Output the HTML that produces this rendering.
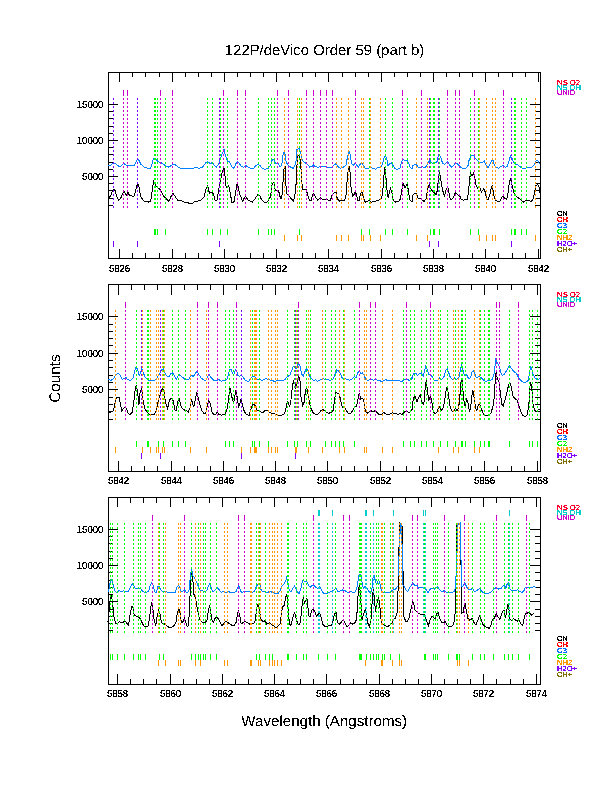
<!DOCTYPE html>
<html lang="en"><head><meta charset="utf-8"><title>122P/deVico Order 59 (part b)</title>
<style>html,body{margin:0;padding:0;background:#fff}body{width:612px;height:792px;overflow:hidden}svg{display:block;text-rendering:geometricPrecision}.tk{font-size:10.2px;stroke:#000;stroke-width:.15px;filter:url(#px)}.big{stroke:#000;stroke-width:.07px;filter:url(#pb)}.lg{font-size:7.3px;stroke-width:.15px;filter:url(#px)}</style>
</head><body>
<svg width="612" height="792" viewBox="0 0 612 792" font-family='"Liberation Sans", sans-serif' shape-rendering="crispEdges" fill="#000">
<defs><filter id="px" x="-5%" y="-20%" width="110%" height="140%" color-interpolation-filters="sRGB"><feComponentTransfer><feFuncA type="discrete" tableValues="0 0 1 1 1"/></feComponentTransfer></filter><filter id="pb" x="-5%" y="-20%" width="110%" height="140%" color-interpolation-filters="sRGB"><feComponentTransfer><feFuncA type="discrete" tableValues="0 1"/></feComponentTransfer></filter></defs>
<rect width="612" height="792" fill="#fff"/>
<text x="224.8" y="54.9" font-size="14.8" textLength="199.4" lengthAdjust="spacingAndGlyphs" class="big">122P/deVico Order 59 (part b)</text>
<text x="241.3" y="725.8" font-size="15" textLength="165.8" lengthAdjust="spacingAndGlyphs" class="big">Wavelength (Angstroms)</text>
<g filter="url(#pb)"><text transform="translate(60.2 378.5) rotate(-90)" text-anchor="middle" font-size="15.3">Counts</text></g>
<g><rect x="108.5" y="72.5" width="432" height="186" fill="none" stroke="#000"/>
<path d="M119.5 73v9M119.5 258v-9M132.5 73v4M132.5 258v-5M145.5 73v4M145.5 258v-5M159.5 73v4M159.5 258v-5M172.5 73v9M172.5 258v-9M185.5 73v4M185.5 258v-5M198.5 73v4M198.5 258v-5M211.5 73v4M211.5 258v-5M224.5 73v9M224.5 258v-9M237.5 73v4M237.5 258v-5M250.5 73v4M250.5 258v-5M263.5 73v4M263.5 258v-5M276.5 73v9M276.5 258v-9M289.5 73v4M289.5 258v-5M302.5 73v4M302.5 258v-5M315.5 73v4M315.5 258v-5M328.5 73v9M328.5 258v-9M342.5 73v4M342.5 258v-5M355.5 73v4M355.5 258v-5M368.5 73v4M368.5 258v-5M381.5 73v9M381.5 258v-9M394.5 73v4M394.5 258v-5M407.5 73v4M407.5 258v-5M420.5 73v4M420.5 258v-5M433.5 73v9M433.5 258v-9M446.5 73v4M446.5 258v-5M459.5 73v4M459.5 258v-5M472.5 73v4M472.5 258v-5M485.5 73v9M485.5 258v-9M498.5 73v4M498.5 258v-5M512.5 73v4M512.5 258v-5M525.5 73v4M525.5 258v-5M538.5 73v9M538.5 258v-9M109 104.5h9M540 104.5h-10M109 111.5h4M540 111.5h-5M109 118.5h4M540 118.5h-5M109 126.5h4M540 126.5h-5M109 133.5h4M540 133.5h-5M109 140.5h9M540 140.5h-10M109 147.5h4M540 147.5h-5M109 154.5h4M540 154.5h-5M109 162.5h4M540 162.5h-5M109 169.5h4M540 169.5h-5M109 176.5h9M540 176.5h-10M109 183.5h4M540 183.5h-5M109 190.5h4M540 190.5h-5M109 198.5h4M540 198.5h-5M109 205.5h4M540 205.5h-5" stroke="#000"/>
<polyline points="108.0,198.4 110.5,195.9 113.0,189.7 114.8,189.7 116.1,194.6 118.6,200.2 121.0,197.7 123.9,191.2 126.6,195.3 127.9,192.2 129.7,195.9 134.1,196.1 135.9,189.7 137.4,184.1 138.7,184.7 140.5,195.9 143.4,200.8 148.4,202.1 150.8,200.8 152.7,187.2 153.7,181.6 155.8,185.9 160.2,189.7 163.3,195.9 168.8,201.5 171.3,195.9 173.2,193.4 175.1,196.5 178.2,200.8 181.9,200.8 184.0,202.1 184.0,202.1 187.7,202.7 190.2,203.6 192.7,203.3 195.2,201.2 200.1,200.8 203.9,197.1 206.1,188.4 207.6,185.9 209.5,193.4 211.9,192.2 213.4,194.0 215.0,200.2 216.9,200.2 218.5,190.9 220.6,179.7 222.5,171.0 224.0,167.6 225.0,176.0 226.2,187.8 228.5,185.7 229.7,189.7 231.8,202.1 233.9,202.1 235.5,193.4 237.0,184.1 238.0,186.2 239.9,194.6 242.6,201.2 244.8,197.1 245.7,196.5 248.0,200.2 252.3,202.1 254.8,199.0 257.9,194.4 260.0,195.9 260.0,197.1 262.5,200.8 265.0,203.1 267.5,201.5 270.6,196.5 272.2,183.5 273.9,182.2 275.2,189.7 276.8,190.9 278.6,190.9 280.5,198.4 281.7,199.0 283.0,182.2 284.2,166.1 285.2,166.1 286.3,193.4 288.6,195.3 291.0,198.4 293.5,201.2 295.4,192.2 296.6,177.3 297.3,156.8 299.5,154.9 300.7,164.8 302.0,183.5 302.8,189.1 306.2,189.7 307.8,195.3 309.7,200.8 310.9,200.8 312.8,194.6 314.0,193.6 315.3,197.1 317.7,200.2 320.2,197.7 322.7,199.4 326.4,199.4 328.3,200.2 330.5,200.2 332.0,195.3 334.5,192.8 336.0,192.2 336.0,192.2 337.2,198.4 339.5,201.2 342.2,200.2 344.4,200.8 346.2,194.6 347.4,176.0 348.4,169.2 349.4,166.1 350.3,174.8 351.2,189.7 352.8,196.5 354.0,194.6 355.2,191.5 356.5,194.6 357.7,200.2 359.3,200.2 360.6,193.4 362.1,192.2 363.3,196.5 365.2,202.1 367.0,201.8 369.3,200.2 371.4,202.1 373.3,201.5 377.0,200.8 380.1,199.4 381.7,198.4 382.9,189.7 383.8,177.3 384.7,167.3 385.7,173.5 386.9,189.7 388.2,198.4 389.4,192.2 390.6,188.4 391.9,192.2 393.4,200.8 395.6,202.1 398.7,201.5 400.6,198.4 401.8,189.7 403.1,183.2 404.9,187.8 407.0,184.5 408.3,189.7 409.5,198.4 410.5,200.8 412.0,201.2 412.0,199.0 413.2,194.6 414.7,193.4 416.7,194.0 418.2,198.4 420.1,198.4 422.6,200.8 424.4,201.2 426.3,198.4 427.5,189.7 429.4,183.5 431.2,189.7 433.7,192.2 436.2,194.6 437.5,189.7 438.7,174.8 439.6,172.9 440.8,179.7 442.4,189.7 444.5,195.9 446.2,189.7 447.6,186.6 448.9,192.2 450.2,199.0 451.7,199.4 453.6,197.1 455.5,192.2 457.3,194.6 459.8,195.9 461.1,199.4 463.5,200.2 467.3,199.4 468.5,192.2 469.4,182.2 470.4,172.9 472.2,176.0 473.5,173.3 474.7,177.3 476.0,184.7 477.8,188.4 479.7,186.6 481.5,192.2 483.8,188.4 485.3,192.2 486.5,198.4 488.0,199.6 489.9,194.6 491.4,187.2 492.4,185.7 493.6,194.6 495.5,200.2 497.9,201.5 500.4,200.8 502.0,197.1 503.3,196.5 504.8,198.4 506.6,199.4 508.2,192.2 509.5,181.0 510.7,179.1 512.2,185.9 514.1,193.4 516.6,196.5 519.7,199.0 523.4,202.1 526.5,200.2 529.0,200.8 531.5,201.5 533.3,198.4 534.6,192.2 535.8,185.9 537.7,184.7 538.9,186.6 540.2,194.6" fill="none" stroke="#000" stroke-width="1"/>
<polyline points="108.0,165.7 110.5,165.7 113.6,162.7 115.5,163.6 119.8,167.1 123.5,163.2 126.6,165.5 129.1,165.5 134.1,165.5 137.4,159.2 139.0,160.5 140.9,164.2 145.3,167.9 150.2,168.3 151.5,166.7 153.3,158.6 155.2,158.9 157.7,161.4 161.4,163.0 165.1,165.5 168.8,167.1 172.6,164.8 175.1,164.5 178.8,167.9 184.0,168.3 184.0,168.3 193.3,168.3 195.2,167.3 198.9,168.3 202.6,167.1 205.7,163.0 207.6,161.4 210.1,163.6 212.3,162.7 214.4,165.5 216.5,167.1 218.8,163.6 221.3,156.1 222.7,152.4 224.0,149.3 225.0,153.7 227.5,161.7 229.0,161.4 231.2,165.5 233.1,168.3 234.9,166.7 236.4,162.4 237.6,161.4 239.3,163.6 241.7,166.7 243.6,167.1 245.7,165.5 248.0,167.1 251.1,168.6 253.5,168.3 256.0,165.5 258.1,164.2 260.0,165.5 260.0,166.1 262.5,168.3 265.0,169.4 268.1,168.3 270.6,165.5 272.4,159.2 273.9,159.2 275.5,163.0 278.0,163.0 279.9,166.7 281.7,165.5 283.3,152.4 284.8,152.4 286.3,162.4 288.6,165.5 291.0,167.6 293.5,168.3 295.8,163.6 297.0,149.3 299.1,148.4 300.7,152.4 302.2,160.5 304.7,162.4 307.2,164.2 309.7,167.1 312.2,166.7 313.4,164.8 315.3,166.7 318.4,167.3 320.8,166.5 324.6,166.5 327.7,167.3 330.8,167.9 333.3,165.5 336.0,163.6 336.0,163.6 337.9,166.7 340.3,168.3 343.5,167.1 345.9,165.5 347.4,157.4 349.0,151.4 350.3,154.9 351.5,163.6 353.4,165.2 355.2,163.0 357.1,165.5 358.6,167.1 360.2,164.2 361.8,163.0 363.3,165.5 365.2,168.3 368.3,168.3 370.8,167.6 373.3,168.3 375.7,169.4 377.6,167.6 380.7,167.1 382.6,164.2 383.8,158.6 385.3,155.2 386.7,158.6 387.9,165.5 389.4,164.2 391.3,162.6 392.9,165.5 395.0,168.6 396.8,169.4 400.0,167.9 401.8,161.7 403.1,159.2 404.9,160.5 407.0,160.1 408.6,163.0 410.1,167.6 412.0,168.3 412.0,166.5 414.5,164.6 416.3,164.6 418.2,167.1 420.1,167.6 421.9,166.5 423.8,167.6 426.3,166.7 428.1,162.4 430.0,160.5 431.9,163.0 435.0,163.0 436.8,162.4 438.3,156.1 439.6,154.9 441.2,158.6 442.4,163.0 444.5,164.2 446.2,163.0 447.6,161.7 449.3,164.8 451.7,167.1 453.6,165.5 455.5,163.0 457.9,164.2 459.8,166.5 462.9,168.6 465.4,168.3 467.9,166.1 469.4,158.6 471.6,155.5 473.7,155.5 475.3,158.6 477.8,161.1 480.3,163.0 482.5,162.4 484.3,161.1 486.1,165.5 488.0,167.6 489.9,164.2 491.7,160.5 493.0,160.5 494.2,164.8 496.1,167.1 498.3,168.3 501.0,166.5 503.3,165.5 505.4,167.1 507.3,166.5 508.7,162.4 510.4,156.1 511.6,157.4 513.5,162.4 515.3,164.2 517.2,164.2 519.7,166.5 522.2,168.3 525.3,168.3 527.1,167.1 532.1,167.1 534.0,164.8 535.6,161.4 537.7,160.1 538.9,163.0 540.2,163.6" fill="none" stroke="#0080FF" stroke-width="1"/>
<path d="M154.5 98V210M155.5 98V210M157.5 98V210M165.5 98V210M207.5 98V210M212.5 98V210M220.5 98V210M227.5 98V210M258.5 98V210M268.5 98V210M271.5 98V210M274.5 98V210M299.5 98V210M361.5 98V210M369.5 98V210M385.5 98V210M392.5 98V210M407.5 98V210M430.5 98V210M433.5 98V210M434.5 98V210M439.5 98V210M470.5 98V210M478.5 98V210M511.5 98V210M514.5 98V210M515.5 98V210M521.5 98V210M526.5 98V210" stroke="#00FF00" stroke-dasharray="2 2"/>
<path d="M154.5 229v6M155.5 229v6M157.5 229v6M165.5 229v6M207.5 229v6M212.5 229v6M220.5 229v6M227.5 229v6M258.5 229v6M268.5 229v6M271.5 229v6M274.5 229v6M299.5 229v6M361.5 229v6M369.5 229v6M385.5 229v6M392.5 229v6M407.5 229v6M430.5 229v6M433.5 229v6M434.5 229v6M439.5 229v6M470.5 229v6M478.5 229v6M511.5 229v6M514.5 229v6M515.5 229v6M521.5 229v6M526.5 229v6" stroke="#00FF00"/>
<path d="M284.5 98V210M297.5 98V210M301.5 98V210M336.5 98V210M341.5 98V210M348.5 98V210M361.5 98V210M363.5 98V210M370.5 98V210M380.5 98V210M416.5 98V210M427.5 98V210M479.5 98V210M486.5 98V210M492.5 98V210M495.5 98V210M535.5 98V210" stroke="#FF9800" stroke-dasharray="2 2"/>
<path d="M284.5 235v6M297.5 235v6M301.5 235v6M336.5 235v6M341.5 235v6M348.5 235v6M361.5 235v6M363.5 235v6M370.5 235v6M380.5 235v6M416.5 235v6M427.5 235v6M479.5 235v6M486.5 235v6M492.5 235v6M495.5 235v6M535.5 235v6" stroke="#FF9800"/>
<path d="M113.5 98V210M137.5 98V210M219.5 98V210M429.5 98V210M438.5 98V210M511.5 98V210" stroke="#7F00FF" stroke-dasharray="2 2"/>
<path d="M113.5 241v6M137.5 241v6M219.5 241v6M429.5 241v6M438.5 241v6M511.5 241v6" stroke="#7F00FF"/>
<path d="" stroke="#00CCCC" stroke-dasharray="2 2"/>
<path d="" stroke="#00CCCC"/>
<path d="M123.5 98V210M127.5 98V210M160.5 98V210M172.5 98V210M223.5 98V210M237.5 98V210M245.5 98V210M277.5 98V210M288.5 98V210M306.5 98V210M313.5 98V210M320.5 98V210M326.5 98V210M332.5 98V210M355.5 98V210M402.5 98V210M421.5 98V210M447.5 98V210M455.5 98V210M459.5 98V210M474.5 98V210M503.5 98V210" stroke="#CC00CC" stroke-dasharray="2 2"/>
<path d="M123.5 90v6M127.5 90v6M160.5 90v6M172.5 90v6M223.5 90v6M237.5 90v6M245.5 90v6M277.5 90v6M288.5 90v6M306.5 90v6M313.5 90v6M320.5 90v6M326.5 90v6M332.5 90v6M355.5 90v6M402.5 90v6M421.5 90v6M447.5 90v6M455.5 90v6M459.5 90v6M474.5 90v6M503.5 90v6" stroke="#CC00CC"/>
<text x="108.9" y="271.9" textLength="21.2" lengthAdjust="spacingAndGlyphs" class="tk">5826</text>
<text x="161.9" y="271.9" textLength="21.2" lengthAdjust="spacingAndGlyphs" class="tk">5828</text>
<text x="213.9" y="271.9" textLength="21.2" lengthAdjust="spacingAndGlyphs" class="tk">5830</text>
<text x="265.9" y="271.9" textLength="21.2" lengthAdjust="spacingAndGlyphs" class="tk">5832</text>
<text x="317.9" y="271.9" textLength="21.2" lengthAdjust="spacingAndGlyphs" class="tk">5834</text>
<text x="370.9" y="271.9" textLength="21.2" lengthAdjust="spacingAndGlyphs" class="tk">5836</text>
<text x="422.9" y="271.9" textLength="21.2" lengthAdjust="spacingAndGlyphs" class="tk">5838</text>
<text x="474.9" y="271.9" textLength="21.2" lengthAdjust="spacingAndGlyphs" class="tk">5840</text>
<text x="527.9" y="271.9" textLength="21.2" lengthAdjust="spacingAndGlyphs" class="tk">5842</text>
<text x="76.8" y="107.9" textLength="26.5" lengthAdjust="spacingAndGlyphs" class="tk">15000</text>
<text x="76.8" y="143.9" textLength="26.5" lengthAdjust="spacingAndGlyphs" class="tk">10000</text>
<text x="82.1" y="179.9" textLength="21.2" lengthAdjust="spacingAndGlyphs" class="tk">5000</text>
<text x="557.1" y="84.9" class="lg" fill="#FF0030" stroke="#FF0030" textLength="23.0" lengthAdjust="spacingAndGlyphs">NS O2</text>
<text x="557.1" y="89.9" class="lg" fill="#00CCCC" stroke="#00CCCC" textLength="23.8" lengthAdjust="spacingAndGlyphs">NS OH</text>
<text x="557.1" y="94.9" class="lg" fill="#CC00CC" stroke="#CC00CC" textLength="18.0" lengthAdjust="spacingAndGlyphs">UNID</text>
<text x="557.1" y="215.9" class="lg" fill="#000" stroke="#000" textLength="10.8" lengthAdjust="spacingAndGlyphs">CN</text>
<text x="557.1" y="221.9" class="lg" fill="#FF0000" stroke="#FF0000" textLength="10.8" lengthAdjust="spacingAndGlyphs">CH</text>
<text x="557.1" y="227.9" class="lg" fill="#0070FF" stroke="#0070FF" textLength="9.9" lengthAdjust="spacingAndGlyphs">C3</text>
<text x="557.1" y="233.9" class="lg" fill="#00FF00" stroke="#00FF00" textLength="9.9" lengthAdjust="spacingAndGlyphs">C2</text>
<text x="557.1" y="239.9" class="lg" fill="#FF9800" stroke="#FF9800" textLength="15.0" lengthAdjust="spacingAndGlyphs">NH2</text>
<text x="557.1" y="245.9" class="lg" fill="#7F00FF" stroke="#7F00FF" textLength="19.7" lengthAdjust="spacingAndGlyphs">H2O+</text>
<text x="557.1" y="251.9" class="lg" fill="#807000" stroke="#807000" textLength="14.9" lengthAdjust="spacingAndGlyphs">CH+</text></g>
<g><rect x="108.5" y="284.5" width="432" height="187" fill="none" stroke="#000"/>
<path d="M118.5 285v10M118.5 471v-10M131.5 285v5M131.5 471v-5M144.5 285v5M144.5 471v-5M157.5 285v5M157.5 471v-5M171.5 285v10M171.5 471v-10M184.5 285v5M184.5 471v-5M197.5 285v5M197.5 471v-5M210.5 285v5M210.5 471v-5M223.5 285v10M223.5 471v-10M236.5 285v5M236.5 471v-5M249.5 285v5M249.5 471v-5M262.5 285v5M262.5 471v-5M275.5 285v10M275.5 471v-10M288.5 285v5M288.5 471v-5M301.5 285v5M301.5 471v-5M314.5 285v5M314.5 471v-5M327.5 285v10M327.5 471v-10M341.5 285v5M341.5 471v-5M354.5 285v5M354.5 471v-5M367.5 285v5M367.5 471v-5M380.5 285v10M380.5 471v-10M393.5 285v5M393.5 471v-5M406.5 285v5M406.5 471v-5M419.5 285v5M419.5 471v-5M432.5 285v10M432.5 471v-10M445.5 285v5M445.5 471v-5M458.5 285v5M458.5 471v-5M471.5 285v5M471.5 471v-5M484.5 285v10M484.5 471v-10M497.5 285v5M497.5 471v-5M511.5 285v5M511.5 471v-5M524.5 285v5M524.5 471v-5M537.5 285v10M537.5 471v-10M109 316.5h9M540 316.5h-10M109 324.5h4M540 324.5h-5M109 331.5h4M540 331.5h-5M109 338.5h4M540 338.5h-5M109 345.5h4M540 345.5h-5M109 353.5h9M540 353.5h-10M109 360.5h4M540 360.5h-5M109 367.5h4M540 367.5h-5M109 375.5h4M540 375.5h-5M109 382.5h4M540 382.5h-5M109 389.5h9M540 389.5h-10M109 397.5h4M540 397.5h-5M109 404.5h4M540 404.5h-5M109 411.5h4M540 411.5h-5M109 419.5h4M540 419.5h-5" stroke="#000"/>
<polyline points="108.0,412.7 111.1,412.1 113.6,410.8 115.5,399.7 117.3,397.2 119.2,397.8 120.4,404.6 121.9,411.2 123.5,408.4 125.4,406.5 126.9,409.6 128.5,414.0 130.4,414.3 132.2,412.1 133.8,402.2 135.1,389.7 136.3,384.8 137.6,392.2 139.0,404.6 140.0,393.5 141.5,388.2 142.8,398.4 144.6,408.4 147.1,412.1 149.0,414.3 151.5,414.8 154.6,414.0 156.4,410.8 157.7,403.4 158.9,398.4 160.8,392.2 162.6,388.2 164.1,392.2 165.4,402.2 167.6,408.4 169.5,399.7 171.3,398.2 173.2,400.9 175.1,410.2 176.3,410.8 177.5,402.2 179.0,398.4 180.6,404.6 182.1,408.4 184.0,409.4 184.0,410.8 186.5,410.2 188.3,412.1 190.2,407.1 191.5,399.1 193.7,407.1 195.2,399.7 196.8,392.8 198.0,396.6 199.5,403.4 202.0,410.8 203.9,413.6 205.7,413.3 207.3,405.9 208.8,400.3 210.3,403.4 211.9,412.1 213.8,414.6 216.0,414.3 217.3,412.1 218.8,414.3 221.3,415.2 225.0,414.3 226.8,410.8 228.5,399.7 229.9,387.9 231.2,393.5 232.7,400.9 233.9,401.5 235.2,393.5 236.2,389.7 237.4,399.7 238.6,406.5 239.6,404.6 240.9,399.1 242.4,404.6 244.2,411.2 246.7,414.8 249.2,415.2 251.1,408.4 252.5,404.4 254.5,404.6 256.0,407.1 257.3,410.8 260.0,411.2 260.0,411.5 262.5,412.7 265.6,410.2 268.1,411.2 271.2,413.3 273.7,413.6 276.1,414.3 278.6,415.8 281.1,415.2 283.6,414.8 285.5,410.8 286.7,403.4 287.9,401.5 289.6,407.1 291.0,399.7 292.3,387.3 293.5,381.0 294.8,382.9 296.0,388.5 297.3,379.8 298.7,376.1 300.0,381.0 301.0,397.2 302.8,405.9 304.1,402.2 305.3,392.2 306.6,387.0 307.8,392.2 309.1,400.9 310.9,408.4 312.8,412.1 314.6,414.0 316.5,414.8 319.0,413.3 320.8,410.8 322.7,409.4 324.6,410.8 326.4,412.1 328.9,413.3 331.4,412.1 333.3,410.2 334.5,399.7 336.0,392.2 336.0,392.8 338.7,393.2 340.3,398.4 342.2,407.1 344.7,407.7 346.6,410.8 348.4,413.3 350.9,413.3 352.8,410.2 354.6,406.5 356.5,406.5 358.1,398.4 359.3,392.8 360.8,399.1 362.7,398.4 363.9,400.9 365.2,410.8 367.0,413.3 368.9,412.1 370.8,410.8 373.3,411.5 375.1,410.8 377.6,413.3 379.5,414.6 381.9,414.0 383.8,412.1 385.7,414.0 389.4,414.3 392.5,412.7 395.0,413.6 398.1,414.3 400.0,413.6 401.8,414.6 404.3,412.1 406.8,410.8 408.6,412.7 410.5,411.5 412.0,409.6 412.0,408.4 413.5,397.8 415.1,396.6 417.0,402.2 418.8,397.2 420.4,394.7 421.9,402.2 423.8,404.6 425.0,389.7 426.3,380.4 427.5,391.0 428.8,400.9 430.4,395.9 431.9,402.2 433.4,412.1 435.0,413.6 436.8,412.7 438.3,408.4 439.6,406.5 441.2,410.2 443.0,408.4 444.5,402.2 445.8,392.2 447.1,386.3 448.6,395.9 449.9,405.9 451.7,410.8 453.6,411.5 455.5,408.4 457.0,410.8 458.6,408.4 459.8,397.2 461.1,381.0 462.3,380.4 463.5,398.4 465.2,407.1 466.6,399.1 467.9,402.2 469.4,411.2 470.6,408.4 471.9,395.9 472.8,390.4 474.1,397.2 475.6,408.4 476.8,410.8 478.4,404.6 479.7,404.0 481.3,408.4 482.8,412.7 484.6,415.2 488.0,415.6 488.6,415.2 491.1,412.7 493.0,405.9 494.2,397.2 495.2,381.0 496.1,371.7 497.3,378.6 499.2,382.3 500.4,393.5 502.0,404.6 503.3,405.9 505.4,398.4 507.3,391.0 508.7,384.2 510.4,383.5 511.6,388.5 512.8,395.9 514.7,398.4 517.2,400.3 519.1,405.9 520.9,412.1 522.8,415.8 525.3,416.4 527.4,414.6 529.0,402.2 530.2,382.9 531.7,386.0 532.7,402.2 534.0,408.4 535.2,410.8 537.1,411.2 538.9,409.0 540.2,409.6" fill="none" stroke="#000" stroke-width="1"/>
<polyline points="108.0,379.4 111.1,380.4 113.6,378.6 116.1,374.2 118.6,373.3 120.4,375.5 122.3,379.2 124.1,378.3 126.0,377.6 127.9,379.8 130.4,380.4 132.8,378.6 134.7,371.1 136.3,366.8 137.8,370.5 139.3,375.5 140.5,372.4 141.8,368.6 143.4,373.0 145.3,377.6 147.7,379.8 150.8,381.0 153.9,380.4 156.4,379.4 158.3,375.5 160.2,373.0 161.6,369.9 163.3,368.6 164.5,372.4 166.4,375.5 168.8,377.1 170.7,373.6 172.6,373.0 174.4,375.5 176.3,379.4 178.2,375.5 180.0,374.8 181.9,376.7 184.0,378.6 184.0,379.4 189.0,379.4 190.8,374.8 193.3,376.5 195.2,373.6 197.0,371.4 198.7,374.2 200.8,377.6 203.2,379.8 205.7,380.4 207.6,376.5 209.5,374.8 211.3,377.9 213.8,380.4 216.9,380.4 218.8,379.4 221.3,381.4 223.7,380.4 226.8,379.8 228.5,374.8 229.7,369.2 231.2,369.2 232.7,373.6 233.9,374.8 235.5,369.6 236.8,371.7 238.0,375.5 239.6,376.5 241.4,374.6 243.0,377.3 245.5,380.4 248.6,381.4 251.1,377.9 252.9,376.1 254.8,376.7 257.3,379.8 260.0,379.4 260.0,379.8 262.5,380.4 265.6,378.6 268.1,379.4 271.2,380.4 274.9,381.4 278.6,380.4 281.7,381.0 284.8,379.8 287.3,376.5 289.8,375.5 291.7,370.5 293.3,366.1 294.8,366.8 296.0,369.2 297.3,366.1 298.7,363.0 300.0,366.1 301.6,373.6 303.2,376.7 304.7,372.4 306.2,368.6 307.8,370.5 309.1,374.8 310.9,377.9 313.4,380.4 315.9,379.8 317.7,381.4 320.8,379.4 323.3,378.6 325.2,379.8 328.3,379.8 330.8,380.4 333.3,378.6 335.1,373.6 336.0,372.4 336.0,369.6 338.5,370.5 340.3,373.6 342.2,377.9 344.7,378.6 347.2,379.4 349.7,380.4 352.1,378.8 354.6,376.5 356.1,377.9 357.7,373.0 359.3,371.1 360.8,373.3 362.3,373.0 363.9,374.8 365.8,379.4 368.3,380.4 370.8,378.8 373.3,380.4 375.5,379.2 378.2,380.4 381.9,381.4 385.7,379.8 388.2,380.4 398.1,380.4 401.8,381.4 404.3,379.8 406.8,379.2 409.3,380.4 412.0,378.8 412.0,377.6 413.9,373.0 415.7,373.0 417.6,375.5 419.5,373.6 421.3,373.0 423.2,376.5 424.7,370.5 425.9,365.2 427.2,369.9 428.8,374.8 430.6,374.2 432.5,377.3 434.4,380.4 437.5,380.4 439.3,377.9 441.8,379.4 444.0,376.5 445.5,371.1 447.1,368.6 448.6,372.4 450.5,377.9 453.0,379.4 454.8,377.9 456.7,379.4 458.9,377.9 460.4,369.9 461.7,364.3 462.9,369.9 464.4,375.5 466.6,374.8 468.5,378.6 470.4,377.9 471.9,372.4 473.5,370.5 474.7,373.6 476.3,377.9 479.1,376.1 481.5,377.9 484.0,380.4 486.1,382.0 488.0,380.4 489.9,380.4 492.1,379.4 494.2,373.6 495.8,359.3 497.3,362.4 499.2,366.1 500.8,372.4 502.3,375.5 504.2,374.2 506.6,370.5 508.5,366.8 509.7,365.5 511.6,368.6 514.1,371.7 516.6,373.6 518.7,377.9 520.9,380.4 523.4,382.5 525.9,382.0 528.4,380.4 529.6,372.4 530.8,366.8 532.1,369.9 533.3,374.8 535.2,378.6 537.7,379.4 540.2,378.6" fill="none" stroke="#0080FF" stroke-width="1"/>
<path d="M136.5 310V422M147.5 310V422M148.5 310V422M158.5 310V422M163.5 310V422M172.5 310V422M178.5 310V422M185.5 310V422M225.5 310V422M229.5 310V422M233.5 310V422M252.5 310V422M254.5 310V422M259.5 310V422M268.5 310V422M287.5 310V422M294.5 310V422M297.5 310V422M306.5 310V422M310.5 310V422M325.5 310V422M331.5 310V422M335.5 310V422M339.5 310V422M343.5 310V422M354.5 310V422M403.5 310V422M410.5 310V422M414.5 310V422M421.5 310V422M426.5 310V422M433.5 310V422M440.5 310V422M447.5 310V422M455.5 310V422M461.5 310V422M462.5 310V422M465.5 310V422M474.5 310V422M480.5 310V422M484.5 310V422M488.5 310V422M489.5 310V422M509.5 310V422M529.5 310V422M532.5 310V422M537.5 310V422" stroke="#00FF00" stroke-dasharray="2 2"/>
<path d="M136.5 441v6M147.5 441v6M148.5 441v6M158.5 441v6M163.5 441v6M172.5 441v6M178.5 441v6M185.5 441v6M225.5 441v6M229.5 441v6M233.5 441v6M252.5 441v6M254.5 441v6M259.5 441v6M268.5 441v6M287.5 441v6M294.5 441v6M297.5 441v6M306.5 441v6M310.5 441v6M325.5 441v6M331.5 441v6M335.5 441v6M339.5 441v6M343.5 441v6M354.5 441v6M403.5 441v6M410.5 441v6M414.5 441v6M421.5 441v6M426.5 441v6M433.5 441v6M440.5 441v6M447.5 441v6M455.5 441v6M461.5 441v6M462.5 441v6M465.5 441v6M474.5 441v6M480.5 441v6M484.5 441v6M488.5 441v6M489.5 441v6M509.5 441v6M529.5 441v6M532.5 441v6M537.5 441v6" stroke="#00FF00"/>
<path d="M115.5 310V422M142.5 310V422M150.5 310V422M156.5 310V422M158.5 310V422M162.5 310V422M164.5 310V422M190.5 310V422M206.5 310V422M241.5 310V422M250.5 310V422M254.5 310V422M255.5 310V422M256.5 310V422M268.5 310V422M271.5 310V422M275.5 310V422M277.5 310V422M295.5 310V422M296.5 310V422M308.5 310V422M322.5 310V422M339.5 310V422M344.5 310V422M364.5 310V422M366.5 310V422M382.5 310V422M392.5 310V422M438.5 310V422M453.5 310V422M458.5 310V422M474.5 310V422M479.5 310V422" stroke="#FF9800" stroke-dasharray="2 2"/>
<path d="M115.5 447v6M142.5 447v6M150.5 447v6M156.5 447v6M158.5 447v6M162.5 447v6M164.5 447v6M190.5 447v6M206.5 447v6M241.5 447v6M250.5 447v6M254.5 447v6M255.5 447v6M256.5 447v6M268.5 447v6M271.5 447v6M275.5 447v6M277.5 447v6M295.5 447v6M296.5 447v6M308.5 447v6M322.5 447v6M339.5 447v6M344.5 447v6M364.5 447v6M366.5 447v6M382.5 447v6M392.5 447v6M438.5 447v6M453.5 447v6M458.5 447v6M474.5 447v6M479.5 447v6" stroke="#FF9800"/>
<path d="M141.5 310V422M160.5 310V422M241.5 310V422M295.5 310V422" stroke="#7F00FF" stroke-dasharray="2 2"/>
<path d="M141.5 453v6M160.5 453v6M241.5 453v6M295.5 453v6" stroke="#7F00FF"/>
<path d="" stroke="#00CCCC" stroke-dasharray="2 2"/>
<path d="" stroke="#00CCCC"/>
<path d="M125.5 310V422M197.5 310V422M208.5 310V422M217.5 310V422M236.5 310V422M298.5 310V422M359.5 310V422M370.5 310V422M375.5 310V422M406.5 310V422M430.5 310V422M496.5 310V422M499.5 310V422M518.5 310V422" stroke="#CC00CC" stroke-dasharray="2 2"/>
<path d="M125.5 302v6M197.5 302v6M208.5 302v6M217.5 302v6M236.5 302v6M298.5 302v6M359.5 302v6M370.5 302v6M375.5 302v6M406.5 302v6M430.5 302v6M496.5 302v6M499.5 302v6M518.5 302v6" stroke="#CC00CC"/>
<text x="107.9" y="484.4" textLength="21.2" lengthAdjust="spacingAndGlyphs" class="tk">5842</text>
<text x="160.9" y="484.4" textLength="21.2" lengthAdjust="spacingAndGlyphs" class="tk">5844</text>
<text x="212.9" y="484.4" textLength="21.2" lengthAdjust="spacingAndGlyphs" class="tk">5846</text>
<text x="264.9" y="484.4" textLength="21.2" lengthAdjust="spacingAndGlyphs" class="tk">5848</text>
<text x="316.9" y="484.4" textLength="21.2" lengthAdjust="spacingAndGlyphs" class="tk">5850</text>
<text x="369.9" y="484.4" textLength="21.2" lengthAdjust="spacingAndGlyphs" class="tk">5852</text>
<text x="421.9" y="484.4" textLength="21.2" lengthAdjust="spacingAndGlyphs" class="tk">5854</text>
<text x="473.9" y="484.4" textLength="21.2" lengthAdjust="spacingAndGlyphs" class="tk">5856</text>
<text x="526.9" y="484.4" textLength="21.2" lengthAdjust="spacingAndGlyphs" class="tk">5858</text>
<text x="76.8" y="319.9" textLength="26.5" lengthAdjust="spacingAndGlyphs" class="tk">15000</text>
<text x="76.8" y="356.9" textLength="26.5" lengthAdjust="spacingAndGlyphs" class="tk">10000</text>
<text x="82.1" y="392.9" textLength="21.2" lengthAdjust="spacingAndGlyphs" class="tk">5000</text>
<text x="557.1" y="296.9" class="lg" fill="#FF0030" stroke="#FF0030" textLength="23.0" lengthAdjust="spacingAndGlyphs">NS O2</text>
<text x="557.1" y="301.9" class="lg" fill="#00CCCC" stroke="#00CCCC" textLength="23.8" lengthAdjust="spacingAndGlyphs">NS OH</text>
<text x="557.1" y="306.9" class="lg" fill="#CC00CC" stroke="#CC00CC" textLength="18.0" lengthAdjust="spacingAndGlyphs">UNID</text>
<text x="557.1" y="427.9" class="lg" fill="#000" stroke="#000" textLength="10.8" lengthAdjust="spacingAndGlyphs">CN</text>
<text x="557.1" y="433.9" class="lg" fill="#FF0000" stroke="#FF0000" textLength="10.8" lengthAdjust="spacingAndGlyphs">CH</text>
<text x="557.1" y="439.9" class="lg" fill="#0070FF" stroke="#0070FF" textLength="9.9" lengthAdjust="spacingAndGlyphs">C3</text>
<text x="557.1" y="445.9" class="lg" fill="#00FF00" stroke="#00FF00" textLength="9.9" lengthAdjust="spacingAndGlyphs">C2</text>
<text x="557.1" y="451.9" class="lg" fill="#FF9800" stroke="#FF9800" textLength="15.0" lengthAdjust="spacingAndGlyphs">NH2</text>
<text x="557.1" y="457.9" class="lg" fill="#7F00FF" stroke="#7F00FF" textLength="19.7" lengthAdjust="spacingAndGlyphs">H2O+</text>
<text x="557.1" y="463.9" class="lg" fill="#807000" stroke="#807000" textLength="14.9" lengthAdjust="spacingAndGlyphs">CH+</text></g>
<g><rect x="108.5" y="497.5" width="432" height="187" fill="none" stroke="#000"/>
<path d="M117.5 498v9M117.5 684v-10M130.5 498v5M130.5 684v-5M143.5 498v5M143.5 684v-5M156.5 498v5M156.5 684v-5M170.5 498v9M170.5 684v-10M183.5 498v5M183.5 684v-5M196.5 498v5M196.5 684v-5M209.5 498v5M209.5 684v-5M222.5 498v9M222.5 684v-10M235.5 498v5M235.5 684v-5M248.5 498v5M248.5 684v-5M261.5 498v5M261.5 684v-5M274.5 498v9M274.5 684v-10M287.5 498v5M287.5 684v-5M300.5 498v5M300.5 684v-5M313.5 498v5M313.5 684v-5M326.5 498v9M326.5 684v-10M340.5 498v5M340.5 684v-5M353.5 498v5M353.5 684v-5M366.5 498v5M366.5 684v-5M379.5 498v9M379.5 684v-10M392.5 498v5M392.5 684v-5M405.5 498v5M405.5 684v-5M418.5 498v5M418.5 684v-5M431.5 498v9M431.5 684v-10M444.5 498v5M444.5 684v-5M457.5 498v5M457.5 684v-5M470.5 498v5M470.5 684v-5M483.5 498v9M483.5 684v-10M496.5 498v5M496.5 684v-5M510.5 498v5M510.5 684v-5M523.5 498v5M523.5 684v-5M536.5 498v9M536.5 684v-10M109 529.5h9M540 529.5h-10M109 536.5h4M540 536.5h-5M109 543.5h4M540 543.5h-5M109 551.5h4M540 551.5h-5M109 558.5h4M540 558.5h-5M109 565.5h9M540 565.5h-10M109 572.5h4M540 572.5h-5M109 580.5h4M540 580.5h-5M109 587.5h4M540 587.5h-5M109 594.5h4M540 594.5h-5M109 601.5h9M540 601.5h-10M109 609.5h4M540 609.5h-5M109 616.5h4M540 616.5h-5M109 623.5h4M540 623.5h-5M109 630.5h4M540 630.5h-5" stroke="#000"/>
<polyline points="108.0,621.6 109.0,611.7 110.2,599.3 111.5,595.5 112.7,604.2 114.0,616.6 115.5,623.5 117.3,624.1 119.2,621.6 121.0,622.8 123.5,622.2 124.8,620.4 126.6,622.8 128.5,625.3 130.1,614.2 131.6,606.7 132.8,606.7 134.3,615.4 137.8,616.6 139.7,617.9 141.5,621.6 143.4,625.3 145.3,626.8 148.4,626.0 150.0,614.2 151.5,601.7 152.7,606.7 154.2,620.4 155.8,626.0 157.1,616.6 158.7,609.8 160.2,614.2 161.4,622.8 163.9,623.5 166.4,625.3 168.8,627.2 171.3,627.6 173.8,626.0 176.1,621.6 177.5,611.7 179.0,609.2 180.3,614.2 181.3,622.8 182.5,622.8 184.0,619.1 184.0,616.6 185.9,622.8 187.1,626.6 188.3,626.0 189.6,609.2 190.5,580.6 191.7,572.6 192.9,580.6 193.9,594.3 195.8,599.3 197.4,609.2 199.2,617.9 200.8,621.0 202.6,622.8 205.1,622.8 207.0,620.4 208.2,611.7 209.7,604.8 210.7,611.7 211.6,619.1 213.2,622.8 215.0,618.5 216.5,617.3 218.2,618.5 220.0,621.6 221.9,626.0 223.7,623.5 225.6,621.6 227.5,622.2 229.3,623.5 231.8,625.3 234.3,625.6 236.2,622.2 237.6,612.9 238.6,611.1 239.9,616.6 241.1,623.5 243.0,622.8 244.8,621.4 247.3,622.8 249.8,624.1 252.3,623.5 254.8,622.8 256.0,614.2 257.5,604.2 258.5,604.2 260.0,614.2 260.0,617.3 261.9,620.4 263.1,622.2 265.0,620.4 266.8,624.1 269.3,622.8 271.2,624.1 273.7,626.0 276.1,627.6 278.6,625.3 280.1,624.1 281.4,614.2 282.4,606.7 284.2,605.5 285.5,598.0 286.7,593.7 287.6,603.0 288.6,616.6 289.8,624.1 291.0,625.3 292.5,619.1 294.2,612.9 295.4,614.8 296.6,620.4 297.9,624.1 299.7,624.7 301.0,616.6 302.2,604.2 303.2,597.4 304.5,603.0 305.7,600.5 306.9,598.0 307.8,606.7 309.1,616.6 310.3,616.6 311.5,610.4 312.8,609.2 314.6,611.1 316.5,616.6 317.7,614.8 319.6,612.3 320.8,616.6 322.7,624.1 324.6,626.0 327.1,627.2 328.9,625.3 331.4,625.3 332.6,622.8 334.3,614.2 336.0,612.9 336.0,617.3 337.9,622.8 339.7,624.1 341.6,621.6 343.2,619.7 344.7,622.8 346.6,626.3 348.4,626.0 350.3,622.8 352.1,624.1 354.4,623.5 356.1,620.4 357.4,609.2 358.4,588.1 359.6,585.6 360.8,599.3 361.8,620.4 363.3,615.4 365.2,609.8 366.4,614.2 367.7,622.8 369.5,626.6 371.0,619.1 372.3,599.3 373.3,588.7 374.5,599.3 375.5,612.3 376.7,604.2 378.2,598.0 379.5,601.7 380.5,614.2 381.3,622.2 383.2,624.7 385.7,626.0 388.2,626.3 390.6,624.7 392.5,622.8 393.7,619.1 395.6,617.9 396.5,614.0 397.5,612.0" fill="none" stroke="#000" stroke-width="1"/>
<polyline points="403.5,616.0 404.5,618.0 405.5,621.0 407.0,622.2 408.7,619.0 410.3,611.7 412.0,604.9 412.0,601.7 413.5,603.0 415.1,610.4 417.6,612.9 420.1,614.2 423.2,614.2 425.0,615.4 426.7,621.6 428.4,625.3 430.0,620.4 431.6,616.6 433.4,617.3 435.0,619.1 436.6,614.2 438.1,612.3 439.6,617.9 441.8,622.2 443.7,622.8 445.3,621.4 446.8,624.7 448.6,626.6 451.1,626.6 453.0,625.3 454.5,620.4 455.0,614.0" fill="none" stroke="#000" stroke-width="1"/>
<polyline points="462.5,613.0 463.5,612.9 464.2,605.5 465.2,604.2 466.4,611.7 467.9,618.5 469.7,620.4 472.2,618.5 474.1,622.8 476.0,624.7 477.8,620.4 479.7,615.4 480.9,619.1 482.8,624.1 485.3,626.6 488.0,627.6 489.2,628.4 490.9,625.3 492.1,620.4 494.2,618.5 496.3,613.5 497.6,616.6 499.8,619.1 501.7,614.2 502.9,611.1 504.2,610.4 505.4,617.9 506.6,611.7 507.9,604.2 509.1,610.4 510.0,619.1 511.6,620.4 513.5,618.5 515.3,619.7 517.2,621.4 518.7,619.1 520.3,622.8 522.2,625.6 523.4,622.8 524.6,615.4 525.9,613.2 528.4,612.9 530.2,613.2 531.7,615.4 534.0,612.9" fill="none" stroke="#000" stroke-width="1"/>
<path d="M397.5 591V613M398.5 547V591M399.5 522V547M402.5 526V571M403.5 571V616M455.5 576V614M456.5 525V576M460.5 522V565M461.5 564V614" stroke="#000"/>
<polyline points="108.5,592.3 109.5,586.8 110.5,580.0 111.5,579.5 112.5,581.9 113.5,586.2 114.5,589.9 115.5,591.4 116.7,592.4 119.2,590.6 121.0,591.8 123.5,590.8 126.0,591.8 128.5,591.4 130.4,586.8 132.2,583.7 133.5,585.0 135.1,588.1 138.4,588.1 140.5,588.7 142.8,591.4 145.3,592.4 148.4,591.8 150.2,585.6 151.7,582.5 153.0,585.0 154.6,591.8 156.4,592.4 157.9,586.8 159.2,586.2 160.8,589.9 162.6,591.8 165.1,591.4 167.6,592.4 171.3,593.0 175.1,592.4 176.9,587.5 178.5,585.0 180.0,587.5 181.3,591.8 184.0,590.6 184.0,588.7 185.9,591.8 187.7,593.0 189.2,589.3 190.5,574.4 191.7,569.5 192.9,575.7 194.6,578.1 196.4,581.9 198.3,586.2 200.1,589.9 202.6,590.8 205.1,591.8 207.0,589.9 208.5,585.6 209.8,583.7 211.1,587.5 212.8,591.8 215.0,589.9 217.5,588.1 219.4,589.9 221.3,592.4 223.7,591.4 226.2,592.4 228.7,591.8 231.2,592.4 233.7,592.4 236.2,591.8 237.6,587.5 238.6,585.6 239.9,588.7 241.4,592.4 243.6,591.8 246.1,591.4 248.6,591.8 251.7,592.4 254.2,591.4 256.0,587.5 257.5,584.4 259.1,583.7 260.0,585.0 260.0,586.8 261.5,590.8 264.3,591.8 267.5,592.4 269.9,591.4 272.4,592.4 275.5,593.4 278.6,593.0 280.5,589.9 282.1,585.6 284.2,583.7 285.5,581.2 286.7,577.5 287.9,583.1 289.2,589.9 291.0,591.8 292.9,588.1 294.5,586.2 296.0,588.7 297.3,591.8 299.1,593.4 300.7,589.3 302.0,583.1 303.2,579.4 304.7,581.9 306.6,581.2 308.4,585.0 310.3,587.5 312.2,585.0 314.0,585.0 315.9,587.5 317.7,588.7 319.6,586.8 321.5,589.9 323.3,593.0 325.8,593.7 328.3,593.0 330.8,591.8 333.3,590.6 336.0,588.1 336.0,588.1 337.9,591.8 340.3,590.8 342.8,589.9 345.3,590.8 347.8,592.4 350.9,591.8 354.6,592.4 356.5,589.3 357.7,583.1 359.0,575.0 360.5,574.4 361.8,580.6 363.3,588.1 365.2,586.2 366.8,588.1 368.5,590.8 370.5,593.0 371.8,589.9 373.0,578.1 374.2,575.7 375.5,581.9 376.7,584.4 378.2,580.6 379.5,581.2 380.7,588.1 382.6,591.8 385.1,592.4 388.2,592.4 390.6,591.8 393.1,589.9 395.0,589.9 396.8,587.5 397.5,586.0" fill="none" stroke="#0080FF" stroke-width="1"/>
<polyline points="403.5,585.5 404.5,587.0 406.2,590.8 408.0,591.2 409.9,587.5 412.0,584.4 412.0,582.5 414.5,585.0 417.0,585.6 418.8,588.1 421.3,587.5 424.4,588.1 426.3,589.9 427.9,593.0 430.0,589.3 431.9,588.1 434.4,589.1 436.2,588.1 437.8,586.8 439.3,589.3 441.8,591.4 444.5,590.8 447.4,593.0 449.9,592.4 451.7,593.0 454.2,591.4 454.8,589.0" fill="none" stroke="#0080FF" stroke-width="1"/>
<polyline points="462.5,586.5 463.5,585.6 464.8,582.5 466.6,586.8 468.5,589.9 470.4,589.9 472.5,588.1 474.1,591.4 476.6,590.8 479.7,588.5 481.5,591.4 484.0,593.0 488.0,593.7 488.6,593.4 491.1,591.8 493.6,589.3 496.3,587.5 498.6,589.1 501.0,588.5 502.9,586.2 504.5,585.0 505.8,588.7 507.0,584.4 508.5,583.1 509.7,588.7 511.6,590.3 514.7,590.3 517.8,589.9 520.3,591.8 522.2,592.4 524.0,590.6 525.3,587.5 528.4,587.5 532.1,587.5 534.0,586.6 535.8,587.5" fill="none" stroke="#0080FF" stroke-width="1"/>
<path d="M398.5 556V576M399.5 531V556M400.5 523V534M401.5 525V544M402.5 544V585M455.5 576V589M456.5 553V576M457.5 525V553M458.5 523V525M459.5 523V525M460.5 522V560M461.5 560V587" stroke="#0080FF"/>
<path d="M110.5 523V635M112.5 523V635M117.5 523V635M124.5 523V635M133.5 523V635M138.5 523V635M140.5 523V635M145.5 523V635M159.5 523V635M163.5 523V635M191.5 523V635M195.5 523V635M198.5 523V635M200.5 523V635M203.5 523V635M205.5 523V635M210.5 523V635M216.5 523V635M256.5 523V635M259.5 523V635M265.5 523V635M269.5 523V635M272.5 523V635M287.5 523V635M288.5 523V635M296.5 523V635M303.5 523V635M306.5 523V635M318.5 523V635M327.5 523V635M335.5 523V635M359.5 523V635M360.5 523V635M361.5 523V635M366.5 523V635M370.5 523V635M373.5 523V635M376.5 523V635M378.5 523V635M382.5 523V635M384.5 523V635M390.5 523V635M399.5 523V635M424.5 523V635M425.5 523V635M433.5 523V635M435.5 523V635M437.5 523V635M448.5 523V635M456.5 523V635M457.5 523V635M459.5 523V635M472.5 523V635M480.5 523V635M484.5 523V635M493.5 523V635M504.5 523V635M508.5 523V635M512.5 523V635M518.5 523V635M529.5 523V635" stroke="#00FF00" stroke-dasharray="2 2"/>
<path d="M110.5 654v6M112.5 654v6M117.5 654v6M124.5 654v6M133.5 654v6M138.5 654v6M140.5 654v6M145.5 654v6M159.5 654v6M163.5 654v6M191.5 654v6M195.5 654v6M198.5 654v6M200.5 654v6M203.5 654v6M205.5 654v6M210.5 654v6M216.5 654v6M256.5 654v6M259.5 654v6M265.5 654v6M269.5 654v6M272.5 654v6M287.5 654v6M288.5 654v6M296.5 654v6M303.5 654v6M306.5 654v6M318.5 654v6M327.5 654v6M335.5 654v6M359.5 654v6M360.5 654v6M361.5 654v6M366.5 654v6M370.5 654v6M373.5 654v6M376.5 654v6M378.5 654v6M382.5 654v6M384.5 654v6M390.5 654v6M399.5 654v6M424.5 654v6M425.5 654v6M433.5 654v6M435.5 654v6M437.5 654v6M448.5 654v6M456.5 654v6M457.5 654v6M459.5 654v6M472.5 654v6M480.5 654v6M484.5 654v6M493.5 654v6M504.5 654v6M508.5 654v6M512.5 654v6M518.5 654v6M529.5 654v6" stroke="#00FF00"/>
<path d="M158.5 523V635M165.5 523V635M178.5 523V635M180.5 523V635M195.5 523V635M200.5 523V635M224.5 523V635M227.5 523V635M250.5 523V635M251.5 523V635M258.5 523V635M260.5 523V635M269.5 523V635M272.5 523V635M274.5 523V635M277.5 523V635M281.5 523V635M365.5 523V635M381.5 523V635M382.5 523V635M392.5 523V635M399.5 523V635M401.5 523V635M457.5 523V635M459.5 523V635M468.5 523V635" stroke="#FF9800" stroke-dasharray="2 2"/>
<path d="M158.5 660v6M165.5 660v6M178.5 660v6M180.5 660v6M195.5 660v6M200.5 660v6M224.5 660v6M227.5 660v6M250.5 660v6M251.5 660v6M258.5 660v6M260.5 660v6M269.5 660v6M272.5 660v6M274.5 660v6M277.5 660v6M281.5 660v6M365.5 660v6M381.5 660v6M382.5 660v6M392.5 660v6M399.5 660v6M401.5 660v6M457.5 660v6M459.5 660v6M468.5 660v6" stroke="#FF9800"/>
<path d="" stroke="#7F00FF" stroke-dasharray="2 2"/>
<path d="" stroke="#7F00FF"/>
<path d="M318.5 523V635M319.5 523V635M332.5 523V635M365.5 523V635M366.5 523V635M373.5 523V635M393.5 523V635M423.5 523V635M425.5 523V635M509.5 523V635" stroke="#00CCCC" stroke-dasharray="2 2"/>
<path d="M318.5 510v6M319.5 510v6M332.5 510v6M365.5 510v6M366.5 510v6M373.5 510v6M393.5 510v6M423.5 510v6M425.5 510v6M509.5 510v6" stroke="#00CCCC"/>
<path d="M152.5 523V635M184.5 523V635M238.5 523V635M244.5 523V635M313.5 523V635M343.5 523V635M349.5 523V635M412.5 523V635M417.5 523V635M444.5 523V635M464.5 523V635M496.5 523V635M526.5 523V635" stroke="#CC00CC" stroke-dasharray="2 2"/>
<path d="M152.5 515v6M184.5 515v6M238.5 515v6M244.5 515v6M313.5 515v6M343.5 515v6M349.5 515v6M412.5 515v6M417.5 515v6M444.5 515v6M464.5 515v6M496.5 515v6M526.5 515v6" stroke="#CC00CC"/>
<text x="106.9" y="696.9" textLength="21.2" lengthAdjust="spacingAndGlyphs" class="tk">5858</text>
<text x="159.9" y="696.9" textLength="21.2" lengthAdjust="spacingAndGlyphs" class="tk">5860</text>
<text x="211.9" y="696.9" textLength="21.2" lengthAdjust="spacingAndGlyphs" class="tk">5862</text>
<text x="263.9" y="696.9" textLength="21.2" lengthAdjust="spacingAndGlyphs" class="tk">5864</text>
<text x="315.9" y="696.9" textLength="21.2" lengthAdjust="spacingAndGlyphs" class="tk">5866</text>
<text x="368.9" y="696.9" textLength="21.2" lengthAdjust="spacingAndGlyphs" class="tk">5868</text>
<text x="420.9" y="696.9" textLength="21.2" lengthAdjust="spacingAndGlyphs" class="tk">5870</text>
<text x="472.9" y="696.9" textLength="21.2" lengthAdjust="spacingAndGlyphs" class="tk">5872</text>
<text x="525.9" y="696.9" textLength="21.2" lengthAdjust="spacingAndGlyphs" class="tk">5874</text>
<text x="76.8" y="532.9" textLength="26.5" lengthAdjust="spacingAndGlyphs" class="tk">15000</text>
<text x="76.8" y="568.9" textLength="26.5" lengthAdjust="spacingAndGlyphs" class="tk">10000</text>
<text x="82.1" y="604.9" textLength="21.2" lengthAdjust="spacingAndGlyphs" class="tk">5000</text>
<text x="557.1" y="509.9" class="lg" fill="#FF0030" stroke="#FF0030" textLength="23.0" lengthAdjust="spacingAndGlyphs">NS O2</text>
<text x="557.1" y="514.9" class="lg" fill="#00CCCC" stroke="#00CCCC" textLength="23.8" lengthAdjust="spacingAndGlyphs">NS OH</text>
<text x="557.1" y="519.9" class="lg" fill="#CC00CC" stroke="#CC00CC" textLength="18.0" lengthAdjust="spacingAndGlyphs">UNID</text>
<text x="557.1" y="640.9" class="lg" fill="#000" stroke="#000" textLength="10.8" lengthAdjust="spacingAndGlyphs">CN</text>
<text x="557.1" y="646.9" class="lg" fill="#FF0000" stroke="#FF0000" textLength="10.8" lengthAdjust="spacingAndGlyphs">CH</text>
<text x="557.1" y="652.9" class="lg" fill="#0070FF" stroke="#0070FF" textLength="9.9" lengthAdjust="spacingAndGlyphs">C3</text>
<text x="557.1" y="658.9" class="lg" fill="#00FF00" stroke="#00FF00" textLength="9.9" lengthAdjust="spacingAndGlyphs">C2</text>
<text x="557.1" y="664.9" class="lg" fill="#FF9800" stroke="#FF9800" textLength="15.0" lengthAdjust="spacingAndGlyphs">NH2</text>
<text x="557.1" y="670.9" class="lg" fill="#7F00FF" stroke="#7F00FF" textLength="19.7" lengthAdjust="spacingAndGlyphs">H2O+</text>
<text x="557.1" y="676.9" class="lg" fill="#807000" stroke="#807000" textLength="14.9" lengthAdjust="spacingAndGlyphs">CH+</text></g>
</svg>
</body></html>
